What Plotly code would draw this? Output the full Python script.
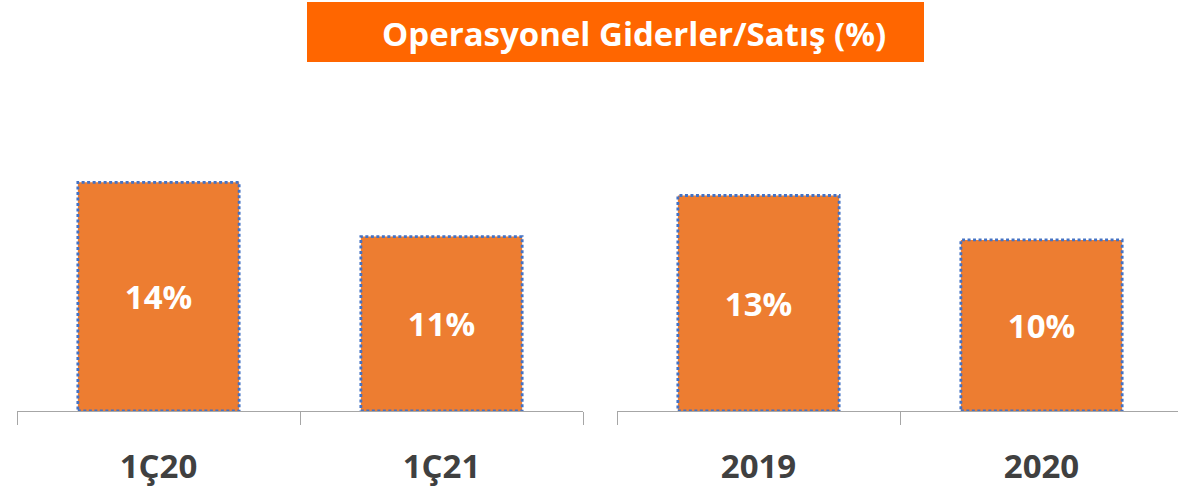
import plotly.graph_objects as go

W, H = 1178, 489

title_text = "Operasyonel Giderler/Satış (%)"
quarter_labels = ["1Ç20", "1Ç21"]
quarter_values = [13.9, 10.6]
year_labels = ["2019", "2020"]
year_values = [13.1, 10.4]

BAR_COLOR = "#ED7D31"
BORDER_COLOR = "#4472C4"
AXIS_COLOR = "#A6A6A6"
LABEL_COLOR = "#404040"
FONT = "Open Sans"
BAR_W = 0.57

fig = go.Figure()

groups = [
    (quarter_labels, quarter_values, "x", "y"),
    (year_labels, year_values, "x2", "y2"),
]
for labels, values, xa, ya in groups:
    fig.add_trace(go.Bar(
        x=labels, y=values, xaxis=xa, yaxis=ya,
        width=BAR_W,
        marker=dict(color=BAR_COLOR, line=dict(width=0)),
        texttemplate="%{y:.0f}%",
        textposition="inside", insidetextanchor="middle",
        textangle=0,
        textfont=dict(family=FONT, size=33, color="white", weight="bold"),
        showlegend=False, hoverinfo="skip",
    ))
    for i, v in enumerate(values):
        fig.add_shape(type="rect", xref=xa, yref=ya,
                      x0=i - BAR_W / 2, x1=i + BAR_W / 2, y0=0, y1=v,
                      line=dict(color=BORDER_COLOR, width=2.8, dash="3px,2.5px"),
                      fillcolor="rgba(0,0,0,0)", layer="above")

ydom = [78 / H, 1 - 80 / H]
yr = [0, 20.12]
xaxis_common = dict(
    type="category", showgrid=False, zeroline=False,
    showline=True, linecolor=AXIS_COLOR, linewidth=1.3,
    ticks="outside", tickson="boundaries", ticklen=13,
    tickcolor=AXIS_COLOR, tickwidth=1.3,
    tickfont=dict(family=FONT, size=33, color=LABEL_COLOR, weight="bold"),
    ticklabelstandoff=26, fixedrange=True,
)
fig.update_layout(
    width=W, height=H,
    margin=dict(l=0, r=0, t=0, b=0),
    paper_bgcolor="white", plot_bgcolor="white",
    xaxis=dict(domain=[17 / W, 583 / W], range=[-0.5, 1.5], anchor="y", **xaxis_common),
    xaxis2=dict(domain=[617 / W, 1.0], range=[-0.5, -0.5 + 561 / 283], anchor="y2", **xaxis_common),
    yaxis=dict(domain=ydom, range=yr, visible=False, fixedrange=True),
    yaxis2=dict(domain=ydom, range=yr, visible=False, fixedrange=True, anchor="x2"),
    bargap=1 - BAR_W,
)

fig.add_shape(type="rect", xref="paper", yref="paper",
              x0=307 / W, x1=924 / W, y0=1 - 62 / H, y1=1 - 2 / H,
              fillcolor="#FF6600", line=dict(width=0), layer="below")
fig.add_annotation(xref="paper", yref="paper", x=634 / W, y=1 - 33 / H,
                   text=title_text, showarrow=False,
                   xanchor="center", yanchor="middle",
                   font=dict(family=FONT, size=33, color="white", weight="bold"))

fig.write_html("out.html")
